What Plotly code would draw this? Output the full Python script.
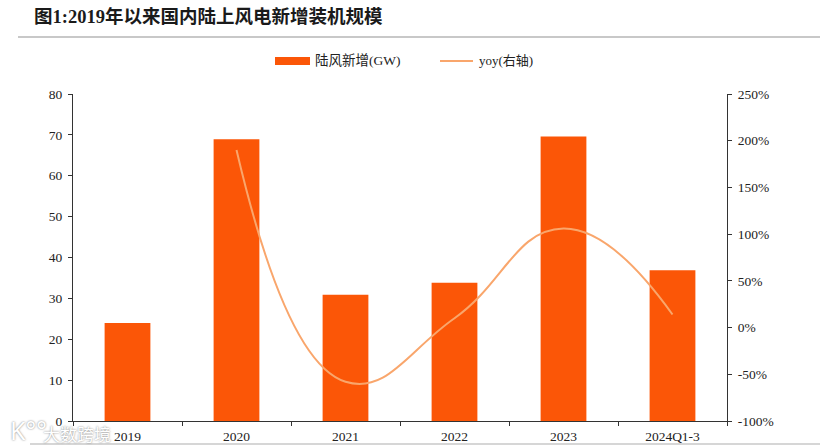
import plotly.graph_objects as go

categories = ["2019", "2020", "2021", "2022", "2023", "2024Q1-3"]
added_gw = [24, 68.9, 30.9, 33.8, 69.6, 36.9]
yoy_cats = ["2020", "2021", "2022", "2023", "2024Q1-3"]
yoy_pct = [190, -58, 10, 106, 14]
left_ticks = list(range(0, 81, 10))
right_ticks = list(range(-100, 251, 50))
right_labels = ["-100%", "-50%", "0%", "50%", "100%", "150%", "200%", "250%"]

SERIF = "Liberation Serif, Noto Sans CJK SC, serif"
BAR = "#FB5607"
LINE = "#F9A66C"
TXT = "#222222"
AX = "#333333"

W, H = 831, 448
L, R, T, B = 73, 727, 94, 421


def px(x):
    return (x - L) / (R - L)


def py(y):
    return (B - y) / (B - T)


fig = go.Figure()
fig.add_trace(go.Bar(x=categories, y=added_gw, name="陆风新增(GW)", marker_color=BAR,
                     marker_line_width=0, width=0.42, yaxis="y", showlegend=False))
fig.add_trace(go.Scatter(x=yoy_cats, y=yoy_pct, name="yoy(右轴)", mode="lines", yaxis="y2",
                         line=dict(color=LINE, width=2, shape="spline", smoothing=1.3),
                         showlegend=False))

shapes = [
    dict(type="line", xref="paper", yref="paper", x0=px(18), x1=px(820), y0=py(37), y1=py(37),
         line=dict(color="#C8C8C8", width=2)),
    dict(type="line", xref="paper", yref="paper", x0=px(30), x1=px(820), y0=py(444), y1=py(444),
         line=dict(color="#C8C8C8", width=1.5)),
    dict(type="rect", xref="paper", yref="paper", x0=px(275), x1=px(310), y0=py(57), y1=py(65),
         fillcolor=BAR, line_width=0),
    dict(type="line", xref="paper", yref="paper", x0=px(440), x1=px(473), y0=py(61), y1=py(61),
         line=dict(color=LINE, width=2)),
]
annots = [
    dict(text="<b>图1:2019年以来国内陆上风电新增装机规模</b>", x=px(32), y=py(16), xanchor="left",
         yanchor="middle", font=dict(size=18.5, color="#1a1a1a", family=SERIF)),
    dict(text="陆风新增(GW)", x=px(313), y=py(61), xanchor="left", yanchor="middle",
         font=dict(size=13.5, color=TXT, family=SERIF)),
    dict(text="yoy(右轴)", x=px(477), y=py(61), xanchor="left", yanchor="middle",
         font=dict(size=13, color=TXT, family=SERIF)),
    dict(text="大数跨境", x=px(41), y=py(433), xanchor="left", yanchor="middle",
         font=dict(size=17, color="#FFFFFF", family="Noto Sans CJK TC",
                   shadow="0 0 2px #777777")),
    dict(text="K°°", x=px(8), y=py(430), xanchor="left", yanchor="middle",
         font=dict(size=25, color="#FFFFFF", family="Noto Sans",
                   shadow="0 0 2px #777777")),
]
for a in annots:
    a.update(xref="paper", yref="paper", showarrow=False)

fig.update_layout(
    width=W, height=H, autosize=False,
    margin=dict(l=L, r=W - R, t=T, b=H - B, autoexpand=False),
    paper_bgcolor="white", plot_bgcolor="white",
    font=dict(family=SERIF, size=13.5, color=TXT),
    shapes=shapes, annotations=annots,
    xaxis=dict(type="category", categoryorder="array",
               categoryarray=categories, tickson="boundaries", ticks="outside", ticklen=4,
               tickcolor=AX, showline=True, linecolor=AX, linewidth=1.2, showgrid=False,
               anchor="y", zeroline=False, tickfont=dict(color=TXT), ticklabelstandoff=3),
    yaxis=dict(range=[0, 80], tickmode="array", tickvals=left_ticks,
               ticks="outside", ticklen=4, tickcolor=AX, showline=True, linecolor=AX,
               linewidth=1.2, showgrid=False, zeroline=False, tickfont=dict(color=TXT),
               ticklabelstandoff=3),
    yaxis2=dict(range=[-100, 250], overlaying="y", side="right",
                tickmode="array", tickvals=right_ticks, ticktext=right_labels, ticks="outside",
                ticklen=4, tickcolor=AX, showline=True, linecolor=AX, linewidth=1.2,
                showgrid=False, zeroline=False, anchor="x", tickfont=dict(color=TXT),
                ticklabelstandoff=3),
)
fig.write_html("out.html", config=dict(displayModeBar=False),
               post_script="document.body.style.margin='0';document.body.style.overflow='hidden';")
